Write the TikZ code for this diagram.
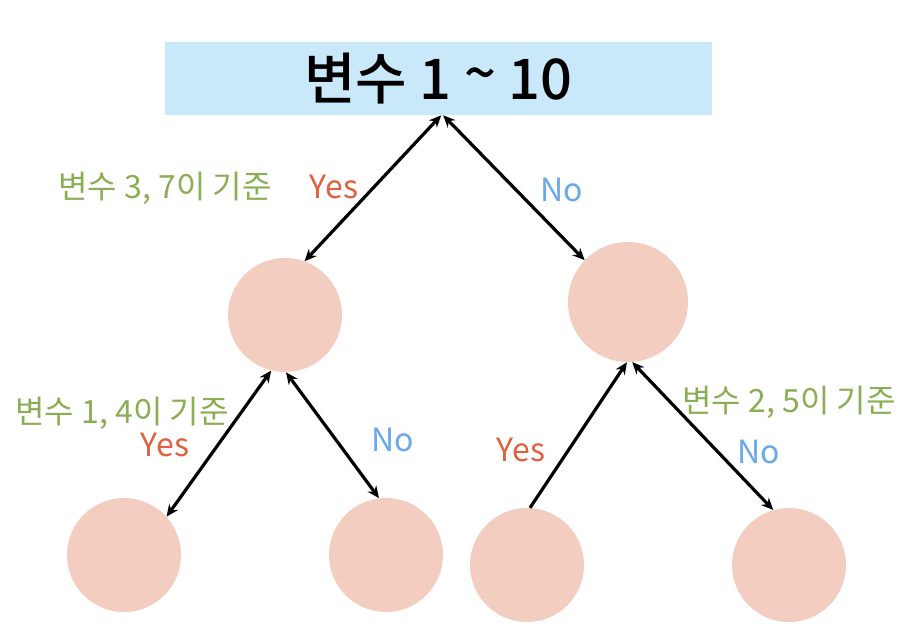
\documentclass[tikz,border=0pt]{standalone}
\usepackage{fontspec}
\setmainfont{Noto Sans CJK KR}[BoldFont={Noto Sans CJK KR Medium}]
\usetikzlibrary{arrows.meta}

\definecolor{titleblue}{HTML}{C9E8FA}
\definecolor{nodepink}{HTML}{F2CDC0}
\definecolor{rulegreen}{HTML}{8BAE55}
\definecolor{yesred}{HTML}{E0603F}
\definecolor{noblue}{HTML}{6AA8E8}

\begin{document}
\begin{tikzpicture}[
    x=0.75pt, y=-0.75pt,
    leaf/.style={circle, fill=nodepink, minimum size=85.5pt, inner sep=0pt},
    bigleaf/.style={leaf, minimum size=90pt},
    link/.style={line width=2.4pt, draw=black},
    rule/.style={font=\fontsize{24}{28}\selectfont, text=rulegreen, inner sep=0pt},
    yes/.style={font=\fontsize{24}{28}\selectfont, text=yesred, inner sep=0pt},
    no/.style={font=\fontsize{24}{28}\selectfont, text=noblue, inner sep=0pt},
    >={Stealth[length=9pt, width=8pt]}
]
\useasboundingbox (0,0) rectangle (900,636);

% title box
\node[fill=titleblue, minimum width=410.25pt, minimum height=54.75pt, inner sep=0pt,
      font=\fontsize{42}{48}\selectfont\bfseries] (title) at (438.5,78.5) {변수 1 \raisebox{0.1em}{\textasciitilde} 10};

% tree nodes
\node[leaf] (left) at (285,315) {};
\node[bigleaf] (right) at (628,302) {};
\node[leaf] (leftleft) at (124,555) {};
\node[leaf] (leftright) at (386,555) {};
\node[leaf] (rightleft) at (527,565) {};
\node[leaf] (rightright) at (789,565) {};

% links
\draw[link, <->] ([xshift=2pt]title.south) -- (left.70);
\draw[link, <->] ([xshift=3.5pt]title.south) -- (right.136);
\draw[link, <->] (left.256) -- (leftleft.42);
\draw[link, <->] (left.271) -- (leftright.97);
\draw[link, ->] (rightleft.87) -- (right.269);
\draw[link, <->] (right.274) -- (rightright.106);

% labels
\node[rule] (rule1) at (165,188) {변수 3, 7이 기준};
\node[yes] (yes1) at (334,187) {Yes};
\node[no] (no1) at (562,190) {No};
\node[rule] (rule2) at (122,413) {변수 1, 4이 기준};
\node[yes] (yes2) at (165,445) {Yes};
\node[no] (no2) at (393,440) {No};
\node[yes] (yes3) at (521,450) {Yes};
\node[rule] (rule3) at (789,402) {변수 2, 5이 기준};
\node[no] (no3) at (759,452) {No};

\end{tikzpicture}
\end{document}
